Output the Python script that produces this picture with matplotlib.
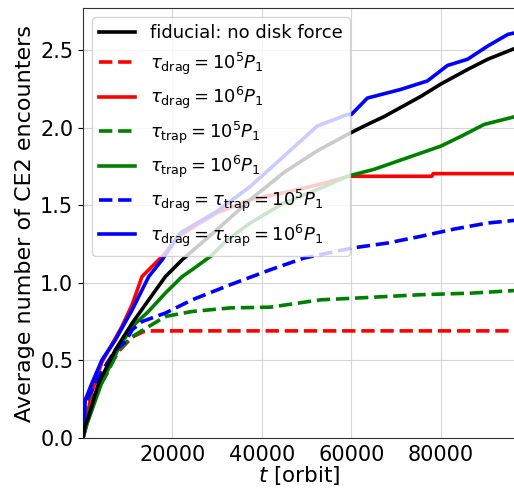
import matplotlib
matplotlib.use("Agg")
import matplotlib.pyplot as plt

# ---- data ----
fid_t = [0, 500, 1250, 3500, 7240, 11000, 14700, 18430, 22170, 29960, 37400, 44900,
         52400, 59100, 63600, 67300, 75500, 80000, 86000, 90500, 96600]
fid_n = [0, 0.08, 0.137, 0.353, 0.568, 0.74, 0.89, 1.04, 1.148, 1.342, 1.535, 1.71,
         1.85, 1.955, 2.02, 2.07, 2.20, 2.28, 2.374, 2.44, 2.51]

drag5_t = [0, 1000, 2500, 5000, 8000, 11000, 13500, 15070, 96600]
drag5_n = [0, 0.12, 0.27, 0.42, 0.56, 0.65, 0.685, 0.69, 0.69]

drag6_t = [0, 1000, 2000, 4240, 7000, 8700, 11000, 13200, 15450, 17700, 19500, 22000,
           26200, 30000, 37400, 44900, 50900, 55000, 59500, 78000, 78300, 96600]
drag6_n = [0, 0.15, 0.30, 0.49, 0.63, 0.718, 0.86, 1.04, 1.105, 1.17, 1.234, 1.31,
           1.385, 1.45, 1.535, 1.58, 1.62, 1.65, 1.686, 1.686, 1.703, 1.703]

trap5_t = [0, 2000, 5000, 7980, 11000, 14700, 18430, 24400, 32900, 41900, 53100,
           60200, 75500, 86700, 96600]
trap5_n = [0, 0.245, 0.395, 0.568, 0.653, 0.718, 0.783, 0.815, 0.838, 0.843, 0.89,
           0.90, 0.923, 0.933, 0.95]

trap6_t = [0, 1000, 4240, 8000, 11000, 14700, 18430, 22170, 24400, 28500, 32000, 37400,
           44900, 52400, 59100, 65000, 71000, 80000, 85000, 89700, 96600]
trap6_n = [0, 0.1, 0.36, 0.58, 0.718, 0.817, 0.934, 1.04, 1.084, 1.17, 1.27, 1.385,
           1.514, 1.60, 1.686, 1.73, 1.79, 1.88, 1.95, 2.02, 2.07]

both5_t = [0, 500, 3500, 7240, 9470, 11000, 13200, 18430, 24400, 32900, 41900, 49400,
           60200, 68100, 75500, 83000, 90500, 96600]
both5_n = [0, 0.224, 0.395, 0.568, 0.62, 0.697, 0.75, 0.805, 0.89, 0.987, 1.084, 1.159,
           1.224, 1.256, 1.299, 1.346, 1.385, 1.402]

both6_t = [0, 500, 2000, 4240, 7240, 11000, 14700, 17700, 21700, 29960, 37400, 44900,
           52400, 59100, 60000, 63600, 71000, 77000, 81500, 86000, 90500, 95000, 96600]
both6_n = [0, 0.245, 0.353, 0.503, 0.632, 0.826, 1.04, 1.148, 1.32, 1.46, 1.62, 1.815,
           2.01, 2.084, 2.084, 2.19, 2.245, 2.30, 2.40, 2.44, 2.525, 2.60, 2.61]

labels = [
    "fiducial: no disk force",
    r"$\tau_{\rm drag} = 10^5 P_1$",
    r"$\tau_{\rm drag} = 10^6 P_1$",
    r"$\tau_{\rm trap} = 10^5 P_1$",
    r"$\tau_{\rm trap} = 10^6 P_1$",
    r"$\tau_{\rm drag} = \tau_{\rm trap} = 10^5 P_1$",
    r"$\tau_{\rm drag} = \tau_{\rm trap} = 10^6 P_1$",
]
xticks = [20000, 40000, 60000, 80000]
yticks = [0.0, 0.5, 1.0, 1.5, 2.0, 2.5]

fig = plt.figure(figsize=(5.14, 4.88), dpi=100)
ax = fig.add_axes([83 / 514, 50 / 488, 1 - 83 / 514 + 0.002, 430 / 488])

lw = 2.6
series = [
    (fid_t, fid_n, "black", "-", 5),
    (drag5_t, drag5_n, "red", "--", 2),
    (drag6_t, drag6_n, "red", "-", 2),
    (trap5_t, trap5_n, "green", "--", 3),
    (trap6_t, trap6_n, "green", "-", 3),
    (both5_t, both5_n, "blue", "--", 4),
    (both6_t, both6_n, "blue", "-", 4),
]
handles = []
for (t, n, c, ls, z), lab in zip(series, labels):
    h, = ax.plot(t, n, color=c, ls=ls, lw=lw, label=lab, zorder=z)
    handles.append(h)

ax.set_xlim(0, 96600)
ax.set_ylim(0, 2.77)
ax.set_xticks(xticks)
ax.set_yticks(yticks)
ax.tick_params(labelsize=15)
ax.tick_params(axis="x", length=0, pad=5)
ax.grid(True, color="#cccccc", lw=0.8, alpha=0.8)
ax.spines["right"].set_visible(False)
for s in ("left", "top", "bottom"):
    ax.spines[s].set_color("#333333")
ax.set_xlabel(r"$t$ [orbit]", fontsize=15.5, labelpad=-1)
ax.set_ylabel("Average number of CE2 encounters", fontsize=16)

ax.legend(handles=handles, loc="upper left", fontsize=13, framealpha=0.8,
          labelspacing=0.45)

fig.savefig("out.png", dpi=100)
